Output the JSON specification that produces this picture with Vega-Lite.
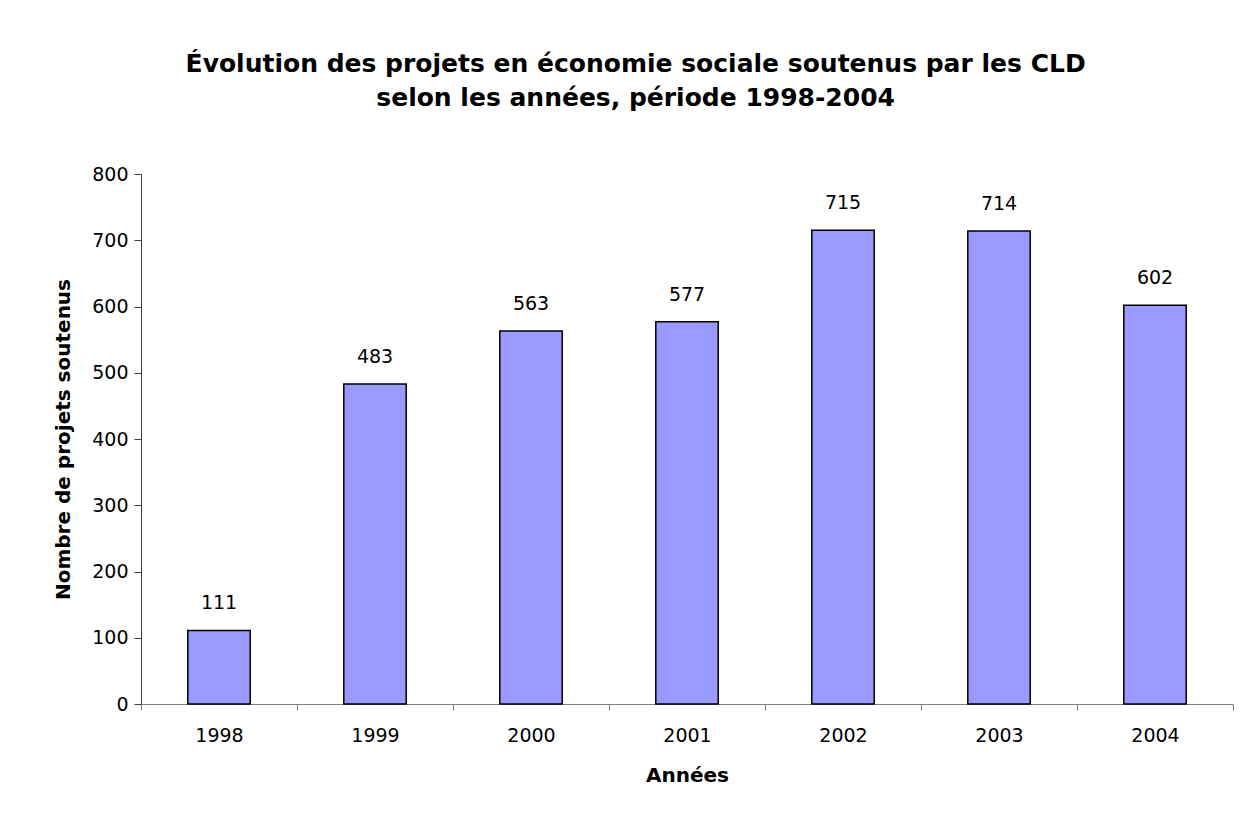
{
  "$schema": "https://vega.github.io/schema/vega-lite/v6.json",
  "width": 1092,
  "height": 530,
  "autosize": {"type": "none"},
  "padding": {"left": 141, "top": 174, "right": 22, "bottom": 123},
  "background": "white",
  "title": {
    "text": ["Évolution des projets en économie sociale soutenus par les CLD", "selon les années, période 1998-2004"],
    "font": "DejaVu Sans",
    "fontSize": 25,
    "fontWeight": "bold",
    "color": "black",
    "anchor": "middle",
    "frame": "bounds",
    "lineHeight": 34,
    "offset": 54,
    "dx": -8
  },
  "data": {
    "values": [
      {"annee": "1998", "n": 111},
      {"annee": "1999", "n": 483},
      {"annee": "2000", "n": 563},
      {"annee": "2001", "n": 577},
      {"annee": "2002", "n": 715},
      {"annee": "2003", "n": 714},
      {"annee": "2004", "n": 602}
    ]
  },
  "encoding": {
    "x": {
      "field": "annee",
      "type": "nominal",
      "scale": {"paddingInner": 0, "paddingOuter": 0},
      "axis": {
        "title": "Années",
        "labelAngle": 0,
        "tickBand": "extent",
        "labelFont": "DejaVu Sans",
        "labelFontSize": 19,
        "labelColor": "black",
        "labelPadding": 16,
        "titleFont": "DejaVu Sans",
        "titleFontSize": 20,
        "titleFontWeight": "bold",
        "titleColor": "black",
        "titlePadding": 20,
        "domainColor": "#808080",
        "tickColor": "#808080",
        "tickSize": 6,
        "grid": false
      }
    },
    "y": {
      "field": "n",
      "type": "quantitative",
      "scale": {"domain": [0, 800], "nice": false},
      "axis": {
        "title": "Nombre de projets soutenus",
        "values": [0, 100, 200, 300, 400, 500, 600, 700, 800],
        "labelFont": "DejaVu Sans",
        "labelFontSize": 19,
        "labelColor": "black",
        "labelPadding": 6,
        "titleFont": "DejaVu Sans",
        "titleFontSize": 20,
        "titleFontWeight": "bold",
        "titleColor": "black",
        "titlePadding": 18,
        "domainColor": "#404040",
        "tickColor": "#404040",
        "tickSize": 7,
        "grid": false
      }
    }
  },
  "layer": [
    {
      "mark": {"type": "bar", "width": {"band": 0.4}, "fill": "#9999FF", "stroke": "black", "strokeWidth": 1.5}
    },
    {
      "mark": {"type": "text", "dy": -27, "font": "DejaVu Sans", "fontSize": 19, "color": "black", "baseline": "middle"},
      "encoding": {"text": {"field": "n", "type": "quantitative"}}
    }
  ],
  "config": {"view": {"stroke": null}}
}
